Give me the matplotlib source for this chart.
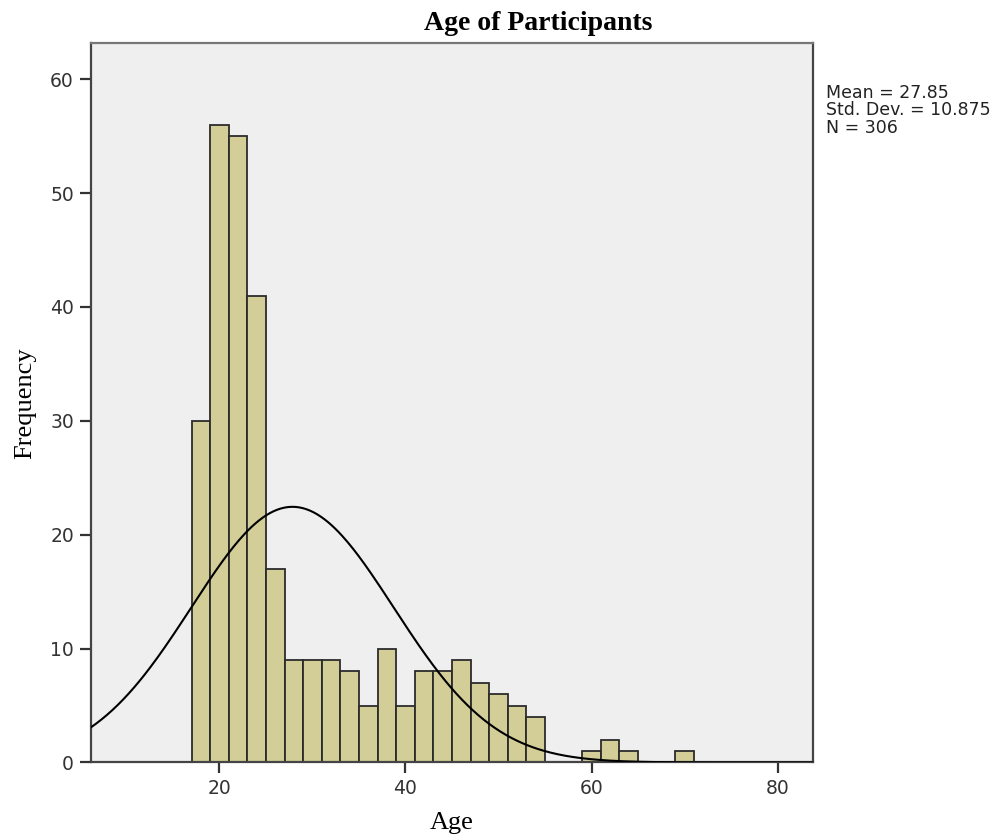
import numpy as np
import matplotlib
matplotlib.use('Agg')
import matplotlib.pyplot as plt

plt.rcParams['font.family'] = ['DejaVu Sans']

# histogram bins (width 2, starting at 17) and their counts
bin_starts = [17, 19, 21, 23, 25, 27, 29, 31, 33, 35, 37, 39, 41, 43, 45, 47, 49,
              51, 53, 55, 57, 59, 61, 63, 65, 67, 69]
frecuencias = [30, 56, 55, 41, 17, 9, 9, 9, 8, 5, 10, 5, 8, 8, 9, 7, 6,
               5, 4, 0, 0, 1, 2, 1, 0, 0, 1]
ancho_bin = 2
media = 27.85
desv = 10.875
n_total = 306
x_ticks = [20, 40, 60, 80]
y_ticks = [0, 10, 20, 30, 40, 50, 60]

fig = plt.figure(figsize=(10.05, 8.4), dpi=100)
ax = fig.add_axes([0.0902, 0.0923, 0.7191, 0.8562])
ax.set_facecolor('#efefef')

starts = [s for s, f in zip(bin_starts, frecuencias) if f > 0]
alturas = [f for f in frecuencias if f > 0]
ax.bar(starts, alturas, width=ancho_bin, align='edge', color='#d3ce97',
       edgecolor='#2b2b2b', linewidth=1.3, zorder=2)

# curva normal con la media y desviacion del resumen
xlim = (6.15, 83.85)
xs = np.linspace(xlim[0], xlim[1], 400)
ys = n_total * ancho_bin / (desv * np.sqrt(2 * np.pi)) * np.exp(-0.5 * ((xs - media) / desv) ** 2)
ax.plot(xs, ys, color='black', linewidth=1.5, zorder=3)

ax.set_xlim(*xlim)
ax.set_ylim(0, 63.16)
ax.set_xticks(x_ticks)
ax.set_yticks(y_ticks)
ax.tick_params(axis='both', direction='out', length=8, width=1.6, colors='#333333',
               labelsize=13.5, pad=4)
for lado in ['top', 'right', 'bottom', 'left']:
    ax.spines[lado].set_color('#444444')
    ax.spines[lado].set_linewidth(1.6)
ax.spines['top'].set_color('#777777')

ax.set_xlabel('Age', family='Liberation Serif', fontsize=19, labelpad=10)
ax.set_ylabel('Frequency', family='Liberation Serif', fontsize=19, labelpad=10)
fig.text(0.536, 0.9645, 'Age of Participants', family='Liberation Serif',
         fontweight='bold', fontsize=20, ha='center', va='baseline')

fig.text(0.822, 0.9, f'Mean = {media}\nStd. Dev. = {desv}\nN = {n_total}',
         fontsize=12.5, color='#222222', va='top', ha='left', linespacing=0.95)

fig.savefig('out.png', dpi=100)
